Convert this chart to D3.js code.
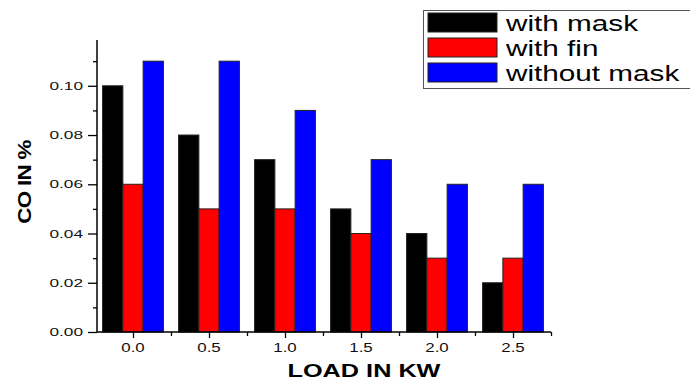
<!DOCTYPE html>
<html><head><meta charset="utf-8">
<script src="https://cdn.jsdelivr.net/npm/d3@7/dist/d3.min.js"></script>
<style>body{margin:0;background:#fff}svg{display:block}text{font-family:"Liberation Sans",Arial,sans-serif}</style>
</head><body><svg id="c" width="690" height="382"></svg>
<script>
const loadLabels = ["0.0","0.5","1.0","1.5","2.0","2.5"];
const loads = [0, 0.5, 1.0, 1.5, 2.0, 2.5];
const seriesNames = ["with mask","with fin","without mask"];
const withMask = [0.10, 0.08, 0.07, 0.05, 0.04, 0.02];
const withFin = [0.06, 0.05, 0.05, 0.04, 0.03, 0.03];
const withoutMask = [0.11, 0.11, 0.09, 0.07, 0.06, 0.06];
const seriesColors = ["#000000","#ff0000","#0000ff"];
const yTickValues = [0, 0.02, 0.04, 0.06, 0.08, 0.10];
const yTickLabels = ["0.00","0.02","0.04","0.06","0.08","0.10"];

const svg = d3.select("#c");
const x = d3.scaleLinear().domain([-0.25, 2.75]).range([95, 551]);
const y = d3.scaleLinear().domain([0, 0.1186]).range([332, 40]);
const allSeries = [withMask, withFin, withoutMask];
const barW = 0.4/3;

// bars
allSeries.forEach((vals, si) => {
  svg.append("g").selectAll("rect").data(vals).join("rect")
    .attr("x", (d,i) => x(loads[i] - 0.2 + si*barW))
    .attr("width", x(barW) - x(0))
    .attr("y", d => y(d))
    .attr("height", d => y(0) - y(d))
    .attr("fill", seriesColors[si])
    .attr("stroke", "#222").attr("stroke-width", 1);
});

// y axis
const yMinor = d3.range(0.01, 0.12, 0.02);
svg.append("g").attr("transform", `translate(${x(-0.25)+2},0)`)
  .call(d3.axisLeft(y).tickValues(yTickValues).tickSize(9).tickFormat(""))
  .call(g => g.select(".domain").attr("stroke-width",1.5).attr("d", `M-0,${y(0)}V${y.range()[1]}`))
  .call(g => g.selectAll(".tick line").attr("stroke-width",1.3));
svg.append("g").attr("transform", `translate(${x(-0.25)+2},0)`)
  .call(d3.axisLeft(y).tickValues(yMinor).tickSize(4).tickFormat(""))
  .call(g => g.select(".domain").remove())
  .call(g => g.selectAll(".tick line").attr("stroke-width",1.3));

svg.append("g").selectAll("text").data(yTickValues).join("text")
  .attr("transform", d => `translate(83,${y(d)+4}) scale(1.5,1)`)
  .attr("text-anchor","end").attr("font-size", 11.5).attr("fill","#111")
  .text((d,i) => yTickLabels[i]);

// x axis
const xMinor = d3.range(-0.25, 2.8, 0.5);
svg.append("g").attr("transform", `translate(0,${y(0)})`)
  .call(d3.axisBottom(x).tickValues(loads).tickSize(6).tickFormat(""))
  .call(g => g.select(".domain").attr("stroke-width",1.5).attr("d", `M${x(-0.25)+2},0H${x(2.75)}`))
  .call(g => g.selectAll(".tick line").attr("stroke-width",1.3));
svg.append("g").attr("transform", `translate(0,${y(0)})`)
  .call(d3.axisBottom(x).tickValues(xMinor.slice(1)).tickSize(4).tickFormat(""))
  .call(g => g.select(".domain").remove())
  .call(g => g.selectAll(".tick line").attr("stroke-width",1.3));

svg.append("g").selectAll("text").data(loads).join("text")
  .attr("transform", d => `translate(${x(d)},352) scale(1.3,1)`)
  .attr("text-anchor","middle").attr("font-size", 13).attr("fill","#111")
  .text((d,i) => loadLabels[i]);

// axis titles
svg.append("text").attr("transform","translate(364,377) scale(1.33,1)")
  .attr("text-anchor","middle").attr("font-size",19).attr("font-weight","bold").text("LOAD IN KW");
svg.append("text").attr("transform","translate(31,182) rotate(-90) scale(1.4,1.15)")
  .attr("text-anchor","middle").attr("font-size",16).attr("font-weight","bold")
  .attr("letter-spacing",-0.5).text("CO IN %");

// legend
const lg = svg.append("g");
lg.append("rect").attr("x",423.5).attr("y",10.5).attr("width",280).attr("height",78)
  .attr("fill","#fff").attr("stroke","#555").attr("stroke-width",1);
seriesNames.forEach((n, i) => {
  lg.append("rect").attr("x",428).attr("y",13 + i*25).attr("width",69).attr("height",19)
    .attr("fill", seriesColors[i]).attr("stroke","#222").attr("stroke-width",1);
  lg.append("text").attr("transform",`translate(506,${31 + i*25}) scale(1.35,1)`)
    .attr("font-size",22).attr("fill","#000").text(n);
});
</script></body></html>
